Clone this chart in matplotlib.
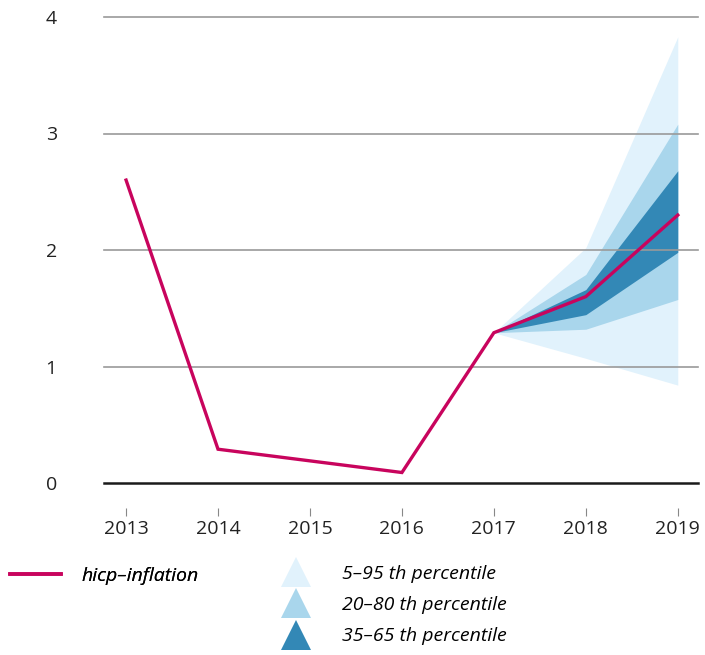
import numpy as np
import matplotlib
matplotlib.use("Agg")
import matplotlib.pyplot as plt
from matplotlib.lines import Line2D

# data
years = [2013, 2014, 2015, 2016, 2017, 2018, 2019]
hicp = [2.6, 0.29, 0.19, 0.09, 1.29, 1.60, 2.30]

fan_years = [2017, 2018, 2019]
p05 = [1.29, 1.07, 0.84]
p95 = [1.29, 2.02, 3.83]
p20 = [1.29, 1.32, 1.575]
p80 = [1.29, 1.79, 3.08]
p35 = [1.29, 1.445, 1.98]
p65 = [1.29, 1.66, 2.68]

yticks = [0, 1, 2, 3, 4]
fan_labels = ["5\u201395 th percentile", "20\u201380 th percentile", "35\u201365 th percentile"]
fan_colors = ["#e1f2fc", "#a9d6ec", "#3388b6"]
line_color = "#c8045d"

plt.rcParams["font.family"] = ["Open Sans", "DejaVu Sans"]

fig = plt.figure(figsize=(7.05, 6.55), dpi=100)
ax = fig.add_axes([104 / 705, 1 - 483 / 655, 594 / 705, 466 / 655])

ax.fill_between(fan_years, p05, p95, color=fan_colors[0], lw=0, zorder=1)
ax.fill_between(fan_years, p20, p80, color=fan_colors[1], lw=0, zorder=1)
ax.fill_between(fan_years, p35, p65, color=fan_colors[2], lw=0, zorder=1)

for v in yticks[1:]:
    ax.axhline(v, color="#9a9a9a", lw=1.2, zorder=2, clip_on=False)
ax.axhline(0, color="#1a1a1a", lw=1.8, zorder=3, clip_on=False)

ax.plot(years, hicp, color=line_color, lw=2.4, zorder=4, solid_joinstyle="miter")

ax.set_xlim(2012.76, 2019.22)
ax.set_ylim(0, 4)
ax.set_xticks(years)
ax.set_xticklabels([str(y) for y in years])
ax.set_yticks(yticks)

for s in ax.spines.values():
    s.set_visible(False)
ax.spines["bottom"].set_position(("outward", 18))
ax.tick_params(axis="x", length=6, width=0.8, color="#888888", pad=3,
               labelsize=14, labelcolor="#222222")
ax.tick_params(axis="y", length=0, pad=34, labelsize=14, labelcolor="#222222")

# legend
h_line = [Line2D([], [], color=line_color, lw=2.6)]
leg1 = fig.legend(h_line, ["hicp\u2013inflation"], loc="center left",
                  bbox_to_anchor=(10 / 705, 1 - 576 / 655), frameon=False,
                  borderpad=0, borderaxespad=0,
                  handlelength=2.6, handletextpad=1.1,
                  prop={"style": "italic", "size": 14})
h_tri = [Line2D([], [], ls="none", marker="^", markersize=22, color=c,
                markeredgewidth=0) for c in fan_colors]
leg2 = fig.legend(h_tri, fan_labels, loc="upper left",
                  bbox_to_anchor=(280 / 705, 1 - 565 / 655), frameon=False,
                  borderpad=0, borderaxespad=0,
                  handlelength=1.6, handletextpad=1.6, labelspacing=0.68,
                  prop={"style": "italic", "size": 14})
fig.add_artist(leg1)

fig.savefig("out.png", dpi=100, facecolor="white")
